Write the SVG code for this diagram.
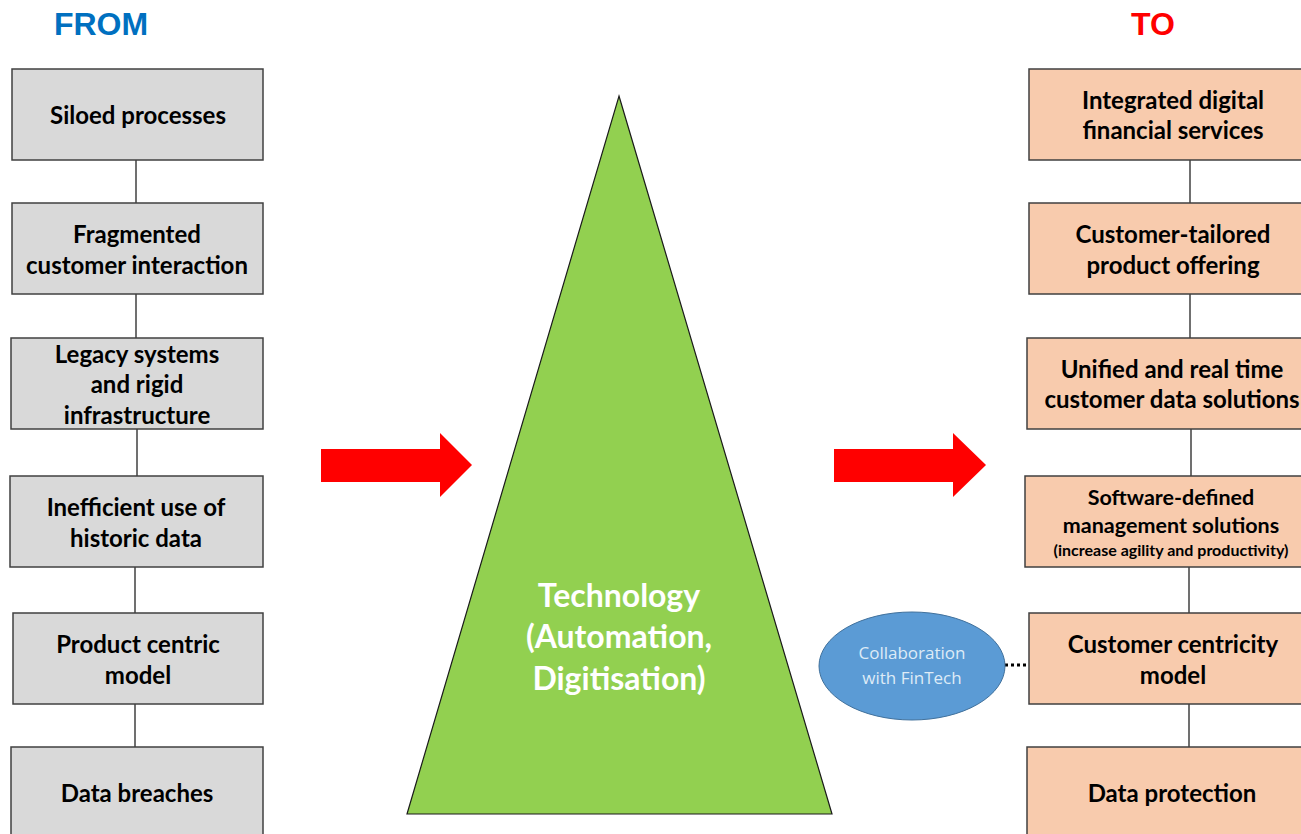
<svg xmlns="http://www.w3.org/2000/svg" width="1301" height="834" viewBox="0 0 1301 834">
<style>
.from rect{fill:#d9d9d9;stroke:#404040;stroke-width:1.5}
.to rect{fill:#f8cbad;stroke:#404040;stroke-width:1.5}
.t{font-family:Lato,"Open Sans","Liberation Sans",sans-serif;font-weight:bold;font-size:24px;fill:#000;text-anchor:middle}
.m{font-size:21.5px}
.s{font-size:16px}
.w{font-size:32px;fill:#fff}
.hd{font-family:"Liberation Sans",Arial,sans-serif;font-weight:bold;font-size:32px;text-anchor:middle}
.conn line{stroke:#404040;stroke-width:1.5}
.arrow{fill:#ff0000}
.el{font-family:"Open Sans","Liberation Sans",sans-serif;font-size:17px;fill:#deebf7;text-anchor:middle}
</style>
<rect width="1301" height="834" fill="#fff"/>
<text class="hd" x="101" y="35" fill="#0070c0">FROM</text>
<text class="hd" x="1153" y="35" fill="#ff0000">TO</text>

<g class="conn">
<line x1="136" y1="160" x2="136" y2="203"/>
<line x1="136" y1="294" x2="136" y2="338"/>
<line x1="137" y1="429" x2="137" y2="476"/>
<line x1="135" y1="567" x2="135" y2="613"/>
<line x1="135" y1="704" x2="135" y2="747"/>
<line x1="1190" y1="160" x2="1190" y2="203"/>
<line x1="1190" y1="294" x2="1190" y2="338"/>
<line x1="1191" y1="429" x2="1191" y2="476"/>
<line x1="1189" y1="567" x2="1189" y2="613"/>
<line x1="1189" y1="704" x2="1189" y2="747"/>
<line x1="1005" y1="665" x2="1033" y2="665" style="stroke:#000;stroke-width:3;stroke-dasharray:3,3"/>
</g>

<g id="from-1" class="from"><rect x="12" y="69" width="251" height="91"/><text class="t" x="138" y="124">Siloed processes</text></g>
<g id="from-2" class="from"><rect x="12" y="203" width="251" height="91"/><text class="t" x="137" y="243">Fragmented</text><text class="t" x="137" y="274">customer interaction</text></g>
<g id="from-3" class="from"><rect x="11" y="338" width="252" height="91"/><text class="t" x="137" y="363">Legacy systems</text><text class="t" x="137" y="393">and rigid</text><text class="t" x="137" y="424">infrastructure</text></g>
<g id="from-4" class="from"><rect x="10" y="476" width="253" height="91"/><text class="t" x="136" y="516">Inefficient use of</text><text class="t" x="136" y="547">historic data</text></g>
<g id="from-5" class="from"><rect x="13" y="613" width="250" height="91"/><text class="t" x="138" y="653">Product centric</text><text class="t" x="138" y="684">model</text></g>
<g id="from-6" class="from"><rect x="11" y="747" width="252" height="95"/><text class="t" x="137" y="802">Data breaches</text></g>

<g id="to-1" class="to"><rect x="1029" y="69" width="280" height="91"/><text class="t" x="1173" y="109">Integrated digital</text><text class="t" x="1173" y="139">financial services</text></g>
<g id="to-2" class="to"><rect x="1029" y="203" width="280" height="91"/><text class="t" x="1173" y="243">Customer-tailored</text><text class="t" x="1173" y="274">product offering</text></g>
<g id="to-3" class="to"><rect x="1027" y="338" width="282" height="91"/><text class="t" x="1172" y="378">Unified and real time</text><text class="t" x="1172" y="408">customer data solutions</text></g>
<g id="to-4" class="to"><rect x="1025" y="476" width="284" height="91"/><text class="t m" x="1171" y="505">Software-defined</text><text class="t m" x="1171" y="533">management solutions</text><text class="t s" x="1171" y="556">(increase agility and productivity)</text></g>
<g id="to-5" class="to"><rect x="1029" y="613" width="280" height="91"/><text class="t" x="1173" y="653">Customer centricity</text><text class="t" x="1173" y="684">model</text></g>
<g id="to-6" class="to"><rect x="1027" y="747" width="282" height="95"/><text class="t" x="1172" y="802">Data protection</text></g>

<g id="technology">
<polygon points="619,96 832,814 407,814" fill="#92d050" stroke="#1a1a1a" stroke-width="1.2"/>
<text class="t w" x="619" y="607">Technology</text>
<text class="t w" x="619" y="648">(Automation,</text>
<text class="t w" x="619" y="690">Digitisation)</text>
</g>

<g id="arrow-left"><polygon class="arrow" points="321,449 440,449 440,433 472,465 440,497 440,482 321,482"/></g>
<g id="arrow-right"><polygon class="arrow" points="834,449 953,449 953,433 986,465 953,497 953,482 834,482"/></g>

<g id="fintech">
<ellipse cx="912" cy="666" rx="93" ry="54" fill="#5b9bd5" stroke="#41719c" stroke-width="1"/>
<text class="el" x="912" y="659">Collaboration</text>
<text class="el" x="912" y="684">with FinTech</text>
</g>
</svg>
